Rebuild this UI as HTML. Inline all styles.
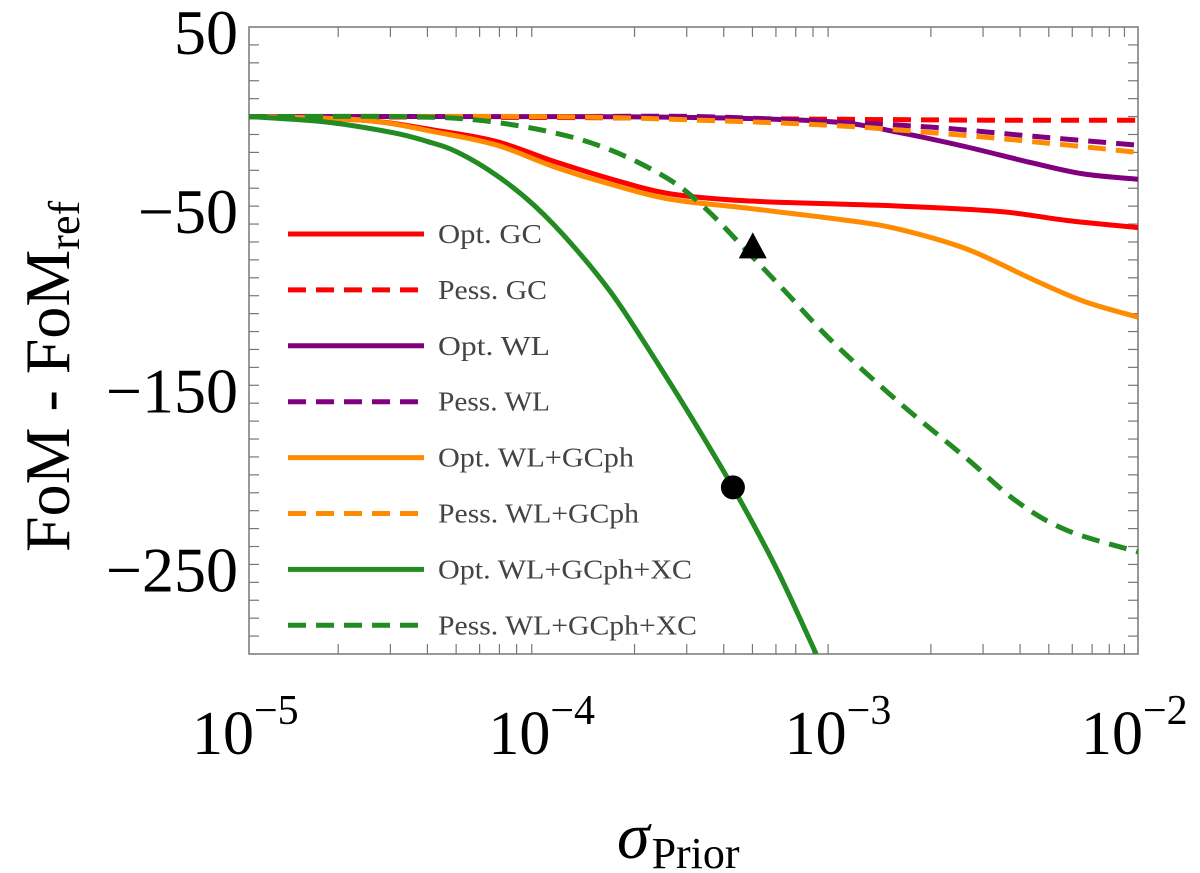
<!DOCTYPE html>
<html><head><meta charset="utf-8"><style>
html,body{margin:0;padding:0;background:#fff;}
svg{display:block;}
text{font-family:"Liberation Serif",serif;}
</style></head><body>
<svg id="chart" width="1200" height="873" viewBox="0 0 1200 873" xmlns="http://www.w3.org/2000/svg">
<g id="plot"></g>
</svg>
<script>
// ---- data (x as log10(sigma_prior)) ----
const xTickExps = [-5, -4, -3, -2];
const yTickVals = [50, -50, -150, -250];
const seriesNames = ["Opt. GC","Pess. GC","Opt. WL","Pess. WL","Opt. WL+GCph","Pess. WL+GCph","Opt. WL+GCph+XC","Pess. WL+GCph+XC"];

const optGC_x = [-5, -4.615, -4.359, -4.163, -3.971, -3.775, -3.583, -3.326, -2.978, -2.803, -2.466, -2.239, -2];
const optGC_y = [0, -2, -8, -14, -25, -35, -43, -47, -49, -50, -53, -58, -62];
const pessGC_x = [-5, -4, -3.5, -3, -2.5, -2];
const pessGC_y = [0, -0.5, -1, -1.5, -2, -2];
const optWL_x = [-5, -4, -3.478, -3.029, -2.803, -2.577, -2.354, -2.185, -2];
const optWL_y = [0, 0, -0.5, -3, -9, -17, -26, -32, -35];
const pessWL_x = [-5, -4, -3.478, -3.029, -2.692, -2.354, -2];
const pessWL_y = [0, 0, 0, -3, -6, -11, -16];
const optWLGC_x = [-5, -4.615, -4.359, -4.163, -3.971, -3.775, -3.583, -3.326, -2.978, -2.803, -2.577, -2.354, -2.185, -2];
const optWLGC_y = [0, -2, -9, -16, -28, -38, -46, -51, -58, -63, -74, -91, -103, -112];
const pessWLGC_x = [-5, -4, -3.478, -3.029, -2.692, -2.354, -2];
const pessWLGC_y = [0, 0, -2, -5, -9, -14, -20];
const optXC_x = [-5, -4.744, -4.514, -4.396, -4.295, -4.163, -4.035, -3.907, -3.775, -3.647, -3.518, -3.367, -3.221, -3.086];
const optXC_y = [0, -3, -9, -14, -20, -33, -50, -72, -99, -131, -165, -207, -252, -300];
const pessXC_x = [-5, -4.487, -4.227, -3.971, -3.775, -3.583, -3.455, -3.326, -3.194, -3.029, -2.803, -2.577, -2.408, -2.239, -2];
const pessXC_y = [0, 0, -2, -9, -19, -35, -52, -74, -97, -126, -160, -191, -215, -231, -243];

const circleMarker = {x: -3.367, y: -207};
const triangleMarker = {x: -3.30, y: -73};

// ---- layout ----
const L = 249, R = 1138, T = 27, B = 654;
const xMin = -5, xMax = -2, yMin = -300, yMax = 50;
const sx = v => L + (v - xMin) / (xMax - xMin) * (R - L);
const sy = v => T + (yMax - v) / (yMax - yMin) * (B - T);
const NS = "http://www.w3.org/2000/svg";
const plot = document.getElementById('plot');
function mk(tag, attrs, parent) {
  const e = document.createElementNS(NS, tag);
  for (const k in attrs) e.setAttribute(k, attrs[k]);
  (parent || plot).appendChild(e);
  return e;
}

const defs = mk('defs', {});
const cp = mk('clipPath', {id: 'clip'}, defs);
mk('rect', {x: L, y: T, width: R - L, height: B - T}, cp);

const frame = mk('rect', {x: L, y: T, width: R - L, height: B - T, fill: 'none', stroke: '#777', 'stroke-width': 1.5});



for (let v = yMin + 10; v < yMax; v += 10) {
  const t1 = mk('line', {x1: L, x2: L + 10, y1: sy(v), y2: sy(v), stroke: '#777', 'stroke-width': 1.2});
  
  
  const t2 = mk('line', {x1: R, x2: R - 10, y1: sy(v), y2: sy(v), stroke: '#777', 'stroke-width': 1.2});
  
  
}
for (let d = -5; d < -2; d++) {
  for (let m = 2; m <= 9; m++) {
    const px = sx(d + Math.log10(m));
    const t = mk('line', {x1: px, x2: px, y1: B, y2: B - 10, stroke: '#777', 'stroke-width': 1.2});
    
    
    const t2 = mk('line', {x1: px, x2: px, y1: T, y2: T + 10, stroke: '#777', 'stroke-width': 1.2});
    
    
  }
}
yTickVals.forEach(v => {
  const t = mk('text', {x: 238, y: sy(v) + 27, 'font-size': 64, 'text-anchor': 'end', fill: '#000'});
  t.textContent = v < 0 ? '\u2212' + Math.abs(v) : String(v);
  
  
});
xTickExps.forEach(e => {
  const t = mk('text', {x: sx(e) - 57, y: 754, 'font-size': 62, fill: '#000'});
  t.textContent = '10';
  const s = mk('tspan', {dy: -30, 'font-size': 42}, t);
  s.textContent = '\u2212' + Math.abs(e);
  
  
});
const xt = mk('text', {x: 617, y: 858, 'font-size': 66, fill: '#000'});
const sig = mk('tspan', {'font-style': 'italic'}, xt); sig.textContent = '\u03c3';
const pr = mk('tspan', {'font-size': 44, dy: 10, dx: 2}, xt); pr.textContent = 'Prior';



const yt = mk('text', {x: 0, y: 0, 'font-size': 64, fill: '#000', transform: 'translate(69,552) rotate(-90)'});
yt.textContent = 'FoM - FoM';
const rf = mk('tspan', {'font-size': 44, dy: 10}, yt); rf.textContent = 'ref';



function pathFrom(xs, ys) {
  const p = xs.map((x, i) => [sx(x), sy(ys[i])]);
  let d = 'M' + p[0][0].toFixed(1) + ',' + p[0][1].toFixed(1);
  for (let i = 0; i < p.length - 1; i++) {
    const p0 = p[Math.max(0, i - 1)], p1 = p[i], p2 = p[i + 1], p3 = p[Math.min(p.length - 1, i + 2)];
    const c1 = [p1[0] + (p2[0] - p0[0]) / 6, p1[1] + (p2[1] - p0[1]) / 6];
    const c2 = [p2[0] - (p3[0] - p1[0]) / 6, p2[1] - (p3[1] - p1[1]) / 6];
    d += 'C' + c1.map(v => v.toFixed(1)).join(',') + ' ' + c2.map(v => v.toFixed(1)).join(',') + ' ' + p2[0].toFixed(1) + ',' + p2[1].toFixed(1);
  }
  return d;
}
const series = [
  {x: optGC_x, y: optGC_y, c: '#ff0000', dash: false, n: 'opt-gc-line'},
  {x: pessGC_x, y: pessGC_y, c: '#ff0000', dash: true, n: 'pess-gc-line'},
  {x: optWL_x, y: optWL_y, c: '#800080', dash: false, n: 'opt-wl-line'},
  {x: pessWL_x, y: pessWL_y, c: '#800080', dash: true, n: 'pess-wl-line'},
  {x: optWLGC_x, y: optWLGC_y, c: '#ff8c00', dash: false, n: 'opt-wl-gcph-line'},
  {x: pessWLGC_x, y: pessWLGC_y, c: '#ff8c00', dash: true, n: 'pess-wl-gcph-line'},
  {x: optXC_x, y: optXC_y, c: '#228b22', dash: false, n: 'opt-wl-gcph-xc-line'},
  {x: pessXC_x, y: pessXC_y, c: '#228b22', dash: true, n: 'pess-wl-gcph-xc-line'}
];
const lines = mk('g', {'clip-path': 'url(#clip)'});
series.forEach(s => {
  const a = {d: pathFrom(s.x, s.y), fill: 'none', stroke: s.c, 'stroke-width': 5};
  if (s.dash) a['stroke-dasharray'] = '18,10';
  const p = mk('path', a, lines);
  
  
});
const cm = mk('circle', {cx: sx(circleMarker.x), cy: sy(circleMarker.y), r: 12, fill: '#000'});


const tx = sx(triangleMarker.x), ty = sy(triangleMarker.y);
const tm = mk('polygon', {points: `${tx},${ty - 15} ${tx - 14},${ty + 11} ${tx + 14},${ty + 11}`, fill: '#000'});



const leg = mk('g', {});


const legWidths = [104, 109, 112, 112, 196, 201, 254, 259];
seriesNames.forEach((name, i) => {
  const y = 234 + i * 55.9;
  const s = series[i];
  const la = {x1: 288, x2: 424, y1: y, y2: y, stroke: s.c, 'stroke-width': 5};
  if (s.dash) la['stroke-dasharray'] = '18,10';
  const ln = mk('line', la, leg);
  
  
  const t = mk('text', {x: 438, y: y + 9, 'font-size': 27, fill: '#444', textLength: legWidths[i], lengthAdjust: 'spacingAndGlyphs'}, leg);
  t.textContent = name;
  
  
});
</script>
</body></html>
